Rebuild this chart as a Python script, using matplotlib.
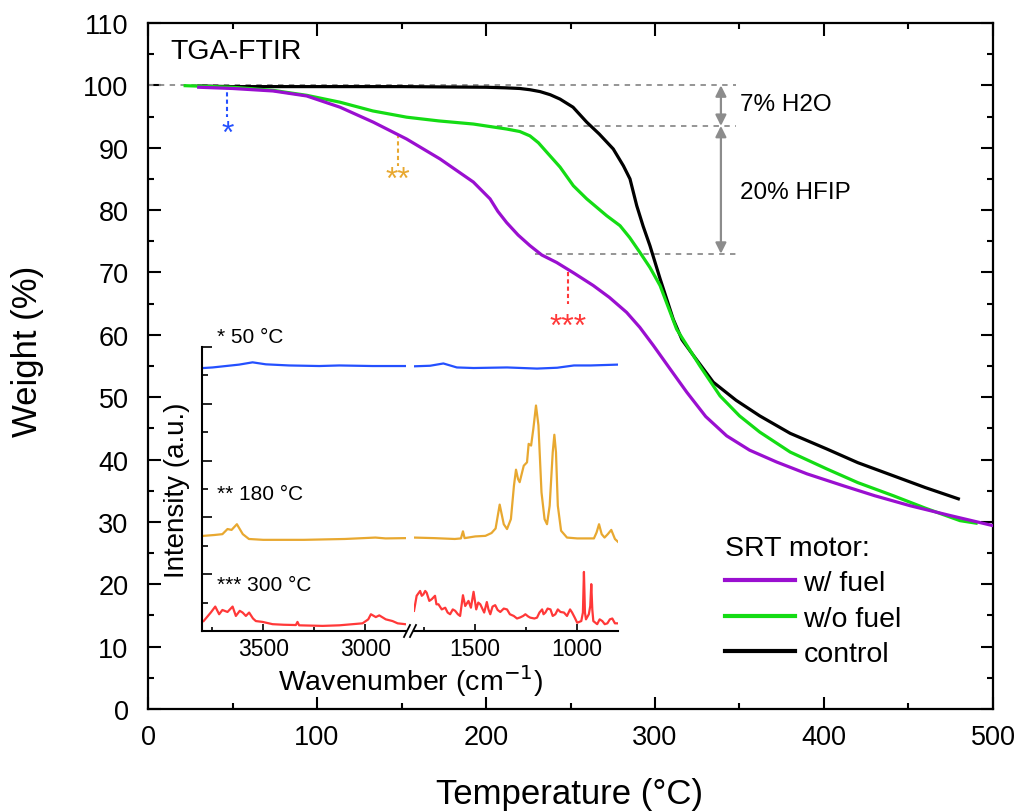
import numpy as np
import matplotlib
matplotlib.use("Agg")
import matplotlib.pyplot as plt
from matplotlib.ticker import MultipleLocator
from matplotlib.lines import Line2D

plt.rcParams['font.family'] = ['Liberation Sans', 'DejaVu Sans']

# ---------------- main TGA data ----------------
ctrl_T = [30, 50, 100, 150, 200, 212, 220, 226, 232, 238, 243.8, 251.5, 259.6, 267, 275.3, 281.3, 285.2,
          289.2, 293, 297, 303, 310.8, 316, 322.7, 334.5, 348, 362, 380, 401.6, 420, 441, 460, 479.5]
ctrl_W = [99.9, 99.8, 99.8, 99.8, 99.7, 99.6, 99.5, 99.3, 99.0, 98.5, 97.8, 96.5, 94.1, 92.2, 89.8, 87.1, 85.0,
          80.7, 77.4, 74.3, 69.0, 62.5, 59.2, 56.7, 52.4, 49.5, 47.0, 44.2, 41.7, 39.5, 37.4, 35.5, 33.7]

green_T = [22, 50, 74, 94, 113.6, 133, 153, 172, 192.5, 212.2, 220, 226, 231, 235.9, 243.8, 251.7, 259.6,
           271.4, 279.3, 285, 291.1, 297, 303, 312.8, 326.6, 338.5, 350, 362, 380, 401.6, 420, 441, 460,
           480.5, 490]
green_W = [99.95, 99.7, 99.2, 98.4, 97.3, 95.9, 94.9, 94.3, 93.8, 93.0, 92.6, 91.9, 90.8, 89.3, 86.9, 83.9,
           81.8, 79.1, 77.5, 75.6, 73.2, 70.8, 67.9, 60.9, 55.0, 50.2, 47.0, 44.4, 41.2, 38.5, 36.3, 34.2,
           32.2, 30.2, 29.8]

purp_T = [30, 50, 74, 93.9, 113.6, 133.3, 153, 172.8, 192.5, 202.4, 207, 212.2, 219, 226, 233, 241.8,
          252, 263.5, 273, 283.2, 291, 299, 309, 318.8, 330, 342.4, 356, 372, 390, 411.4, 430, 450.9,
          475, 500]
purp_W = [99.7, 99.5, 99.1, 98.3, 96.5, 94.1, 91.4, 88.2, 84.5, 81.8, 79.8, 78.0, 76.0, 74.3, 72.8, 71.6,
          69.9, 67.9, 66.0, 63.6, 61.2, 58.3, 54.5, 50.8, 46.9, 43.8, 41.5, 39.6, 37.7, 35.8, 34.2, 32.6,
          31.0, 29.4]

series_labels = ['w/ fuel', 'w/o fuel', 'control']
c_purple, c_green, c_black = '#9A0FD0', '#14DC14', '#000000'

# annotation levels
lvl_top, lvl_mid, lvl_low = 100, 93.5, 73
# FTIR sampling markers (temperature, top, bottom)
mark_T = [47, 148, 248.3]
mark_top = [100, 92.2, 70]
mark_bot = [95, 87, 65]
mark_lab = ['*', '**', '***']

# ---------------- inset FTIR data ----------------
blue_wn = [3792, 3748, 3683, 3618, 3552, 3487, 3373, 3225, 3127, 2964, 2804,
           1800, 1721, 1656, 1590, 1508, 1344, 1197, 1098, 1016, 934, 800]
blue_I = [92.6, 92.8, 93.3, 93.8, 94.6, 93.9, 93.5, 93.3, 93.5, 93.3, 93.3,
          93.2, 93.4, 94.2, 92.8, 92.6, 92.8, 92.4, 92.7, 93.5, 93.5, 93.8]

orng_wn = [3792, 3740, 3700, 3675, 3655, 3629, 3600, 3570, 3500, 3300, 3100, 2950, 2900, 2804,
           1800, 1700, 1600, 1570, 1560, 1552, 1500, 1450, 1420, 1400, 1380, 1360, 1344, 1325,
           1310, 1300, 1290, 1282, 1270, 1262, 1246, 1238, 1226, 1215, 1202, 1190, 1175, 1160,
           1148, 1135, 1120, 1112, 1104, 1095, 1079, 1050, 1000, 918, 905, 893, 880, 866, 850,
           833, 815, 800]
orng_I = [33.5, 33.8, 34.1, 35.9, 35.6, 37.6, 34.1, 32.4, 32.1, 32.1, 32.4, 32.9, 32.6, 32.7,
          32.9, 32.7, 32.4, 32.6, 35.1, 32.7, 33.3, 33.5, 34.5, 36.1, 44.5, 37.6, 35.9, 39.4,
          51.2, 56.8, 53.5, 52.4, 55.9, 58.2, 59.4, 65.9, 65.3, 71.2, 79.4, 72.4, 48.8, 39.4,
          37.6, 44.1, 62.9, 69.1, 62.9, 44.1, 35.3, 32.9, 32.6, 32.6, 34.7, 37.6, 34.1, 32.9, 34.1,
          35.6, 32.4, 31.4]

red_wn = [3792, 3757, 3735, 3716, 3700, 3675, 3650, 3634, 3615, 3601, 3585, 3569, 3550, 3536,
          3503, 3454, 3400, 3340, 3332, 3324, 3209, 3127, 3013, 2985, 2972, 2948, 2931, 2899,
          2866, 2841, 2804,
          1800, 1787, 1770, 1762, 1754, 1745, 1738, 1725, 1713, 1697, 1690, 1680, 1664, 1647,
          1635, 1623, 1610, 1598, 1585, 1574, 1560, 1549, 1533, 1521, 1508, 1495, 1485, 1475,
          1456, 1443, 1435, 1426, 1415, 1402, 1390, 1377, 1360, 1344, 1330, 1311, 1295, 1279,
          1265, 1254, 1240, 1230, 1210, 1197, 1185, 1172, 1165, 1156, 1145, 1131, 1120, 1107,
          1095, 1082, 1065, 1050, 1035, 1025, 1012, 1000, 980, 972, 967, 962, 957, 943, 936,
          931, 926, 921, 902, 890, 877, 865, 852, 840, 828, 815, 800]
red_I = [3.5, 6.5, 8.6, 5.9, 7.4, 6.7, 8.6, 5.3, 7.1, 6.5, 5.3, 6.5, 4.4, 3.5,
         3.2, 2.4, 2.2, 2.1, 3.2, 2.0, 1.8, 2.0, 2.7, 4.1, 5.9, 4.9, 5.5, 4.1,
         3.5, 2.7, 2.4,
         7.1, 12.4, 14.1, 12.4, 12.9, 14.1, 13.5, 10.6, 11.2, 12.4, 9.4, 9.4, 7.6, 8.2,
         6.5, 5.9, 7.6, 7.1, 5.9, 5.3, 12.6, 8.8, 10.6, 8.2, 13.8, 7.6, 10.0, 9.4,
         6.5, 10.2, 7.6, 5.9, 8.6, 9.1, 7.4, 6.7, 7.9, 7.6, 5.9, 5.3, 4.4, 4.8,
         5.3, 5.9, 5.1, 4.7, 4.4, 4.7, 6.5, 7.6, 5.9, 6.5, 7.9, 7.6, 5.3, 5.9,
         7.6, 6.7, 6.5, 5.3, 7.6, 6.5, 4.7, 2.9, 3.5, 6.5, 20.8, 6.5, 4.1, 5.9, 8.8,
         16.5, 7.6, 3.5, 2.4, 4.1, 3.5, 2.4, 2.7, 4.1, 4.4, 2.7, 2.7]

spec_labels = ['* 50 \u00b0C', '** 180 \u00b0C', '*** 300 \u00b0C']
c_blue, c_orange, c_red = '#2450FF', '#E8A830', '#FF3838'

hi_range = (3800, 2800)
lo_range = (1800, 800)

# ---------------- figure ----------------
W, H = 1020, 812
fig = plt.figure(figsize=(W / 100, H / 100), dpi=100)

def fx(px):
    return px / W

def fy(py):
    return 1 - py / H

ax = fig.add_axes([fx(148), fy(710), fx(993) - fx(148), fy(24) - fy(710)])

ax.plot(purp_T, purp_W, color=c_purple, lw=2.3, label=series_labels[0], zorder=5)
ax.plot(green_T, green_W, color=c_green, lw=2.3, label=series_labels[1], zorder=4)
ax.plot(ctrl_T, ctrl_W, color=c_black, lw=2.3, label=series_labels[2], zorder=3)

ax.set_xlim(0, 500)
ax.set_ylim(0, 110)
ax.xaxis.set_major_locator(MultipleLocator(100))
ax.xaxis.set_minor_locator(MultipleLocator(50))
ax.yaxis.set_major_locator(MultipleLocator(10))
ax.yaxis.set_minor_locator(MultipleLocator(5))
ax.tick_params(which='both', direction='in', top=True, right=True, width=1.5)
ax.tick_params(which='major', length=9)
ax.tick_params(which='minor', length=4.5)
ax.tick_params(axis='x', labelsize=19.5, pad=11)
ax.tick_params(axis='y', labelsize=19.5, pad=14)
for s in ax.spines.values():
    s.set_linewidth(1.6)

fig.text(fx(570), fy(795), 'Temperature (\u00b0C)', fontsize=25, ha='center', va='center')
fig.text(fx(28), fy(351), 'Weight (%)', fontsize=25, ha='center', va='center', rotation=90)

# TGA-FTIR label
ax.text(13, 105.5, 'TGA-FTIR', fontsize=20.5, ha='left', va='center')

# gray dashed reference lines
gray = '#8C8C8C'
ax.plot([0, 348], [lvl_top, lvl_top], ls=(0, (3, 3)), color=gray, lw=1.3, zorder=2)
ax.plot([200, 348], [lvl_mid, lvl_mid], ls=(0, (3, 3)), color=gray, lw=1.3, zorder=2)
ax.plot([229, 348], [lvl_low, lvl_low], ls=(0, (3, 3)), color=gray, lw=1.3, zorder=2)

arrow_x = 339
for a, b in [(lvl_top, lvl_mid), (lvl_mid, lvl_low)]:
    ax.annotate('', xy=(arrow_x, a), xytext=(arrow_x, b),
                arrowprops=dict(arrowstyle='<|-|>', color=gray, lw=1.6,
                                mutation_scale=16, shrinkA=0, shrinkB=0))
ax.text(350.3, 97.0, '7% H2O', fontsize=17.5, ha='left', va='center')
ax.text(350.3, 82.9, '20% HFIP', fontsize=17.5, ha='left', va='center')

# FTIR sampling markers
mark_cols = [c_blue, c_orange, c_red]
mark_base = [91.0, 83.5, 60.0]
for t, y0, y1, lab, c, yb in zip(mark_T, mark_top, mark_bot, mark_lab, mark_cols, mark_base):
    ax.plot([t, t], [y0, y1], ls=(0, (2, 1.5)), color=c, lw=1.5, zorder=2)
    ax.text(t, yb, lab, fontsize=23, color=c, ha='center', va='baseline')

# legend
leg = ax.legend(loc='upper left', bbox_to_anchor=(0.683, 0.254), frameon=False,
                title='SRT motor:', fontsize=20.5, title_fontsize=20.5,
                handlelength=2.45, handletextpad=0.3, labelspacing=0.33,
                borderaxespad=0, borderpad=0, alignment='left')
for h in leg.get_lines():
    h.set_linewidth(3)

# ---------------- inset ----------------
in_bot, in_top = 632, 348
ax_hi = fig.add_axes([fx(202), fy(in_bot), fx(406) - fx(202), fy(in_top) - fy(in_bot)])
ax_lo = fig.add_axes([fx(414), fy(in_bot), fx(618) - fx(414), fy(in_top) - fy(in_bot)])

def split(wn, inten, hi):
    wn = np.asarray(wn, float)
    inten = np.asarray(inten, float)
    m = wn >= 2000 if hi else wn < 2000
    return wn[m], inten[m]

for wn, I, c in [(blue_wn, blue_I, c_blue), (orng_wn, orng_I, c_orange), (red_wn, red_I, c_red)]:
    x, y = split(wn, I, True)
    ax_hi.plot(x, y, color=c, lw=1.6)
    x, y = split(wn, I, False)
    ax_lo.plot(x, y, color=c, lw=1.6)

for a, rng in [(ax_hi, hi_range), (ax_lo, lo_range)]:
    a.set_xlim(*rng)
    a.set_ylim(0, 100)
    a.patch.set_alpha(0)
    a.spines['top'].set_visible(False)
    a.spines['right'].set_visible(False)
    for s in a.spines.values():
        s.set_linewidth(1.5)
    a.xaxis.set_major_locator(MultipleLocator(500))
    a.xaxis.set_minor_locator(MultipleLocator(250))
    a.tick_params(which='both', direction='in', width=1.2, labelsize=16.5, pad=4)
    a.tick_params(which='major', length=5)
    a.tick_params(which='minor', length=3)
    a.yaxis.set_major_locator(MultipleLocator(20))
    a.yaxis.set_minor_locator(MultipleLocator(10))
    a.tick_params(axis='y', which='both', labelleft=False)

ax_lo.spines['left'].set_visible(False)
ax_lo.tick_params(axis='y', which='both', left=False)
ax_hi.tick_params(axis='y', which='major', length=7)
ax_hi.tick_params(axis='y', which='minor', length=4)

# axis break marks
for dx in (0, 6):
    fig.add_artist(Line2D([fx(404 + dx), fx(410 + dx)], [fy(638), fy(626)],
                          color='black', lw=1.3))

fig.text(fx(411), fy(681), 'Wavenumber (cm$^{-1}$)', fontsize=20.5, ha='center', va='center')
fig.text(fx(177), fy(490), 'Intensity (a.u.)', fontsize=20, ha='center', va='center', rotation=90)

for lab, py in zip(spec_labels, [338, 495, 586]):
    fig.text(fx(217), fy(py), lab, fontsize=15, ha='left', va='center')

fig.savefig('out.png', dpi=100)
